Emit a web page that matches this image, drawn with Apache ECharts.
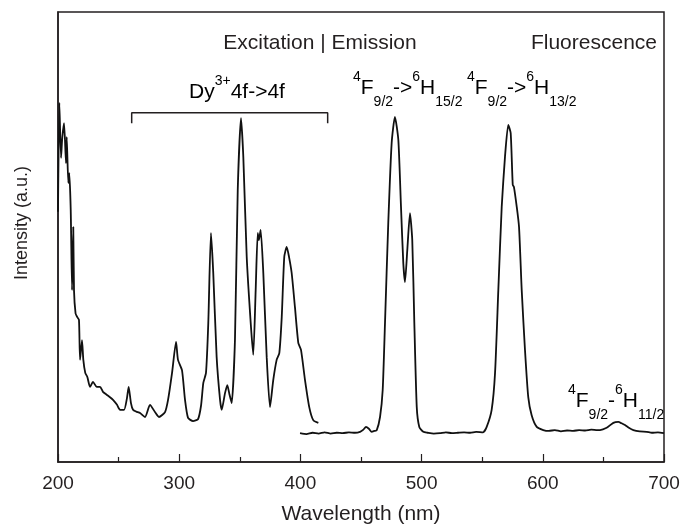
<!DOCTYPE html>
<html>
<head>
<meta charset="utf-8">
<script src="https://cdn.jsdelivr.net/npm/echarts@6/dist/echarts.min.js"></script>
<style>
  html, body { margin: 0; padding: 0; background: #fff; }
  #main { width: 681px; height: 525px; }
</style>
</head>
<body>
<div id="main"></div>
<script>
// excitation spectrum (Dy3+ 4f->4f), [wavelength nm, intensity a.u.]
const excitation = [
  [200, 55.6], [201.1, 79.8], [202.5, 67.6], [203.5, 72], [205, 75.3], [206.6, 66.4],
  [207.2, 72.2], [208.5, 62], [209.3, 64.2], [210.5, 56], [211.6, 38.2], [212.6, 52.2],
  [213.2, 38.2], [214.5, 33], [215.9, 32.2], [217.3, 31.6], [218.2, 22.7], [219.8, 27.1],
  [220.9, 22.7], [222.5, 19.8], [224.2, 18.9], [226.4, 16.7], [228.9, 17.8], [231.9, 16.7],
  [234.7, 16.7], [237.1, 15.6], [240.4, 14.9], [242.9, 14.4], [245.4, 13.8], [248.7, 12.7],
  [251.2, 11.6], [254.5, 11.6], [256.9, 14.2], [258.3, 16.7], [260.2, 13.1], [261.9, 11.6],
  [264.5, 11.2], [267.7, 10.9], [271.8, 10], [275.9, 12.7], [280, 11.1], [283.3, 10],
  [288.3, 11.1], [290.8, 13.8], [294.1, 19.8], [297.4, 26.7], [299, 22.7], [302.3, 20.4],
  [304.8, 13.8], [307.3, 9.8], [311.4, 9.1], [315.5, 9.5], [318, 12.5], [319.9, 17.6],
  [322.1, 19.8], [324, 30.9], [326.2, 50.9], [328.1, 42], [330.9, 23.3], [333.7, 13.8],
  [335.1, 11.6], [337.8, 15.3], [339.7, 17.1], [341.5, 15], [343.3, 13.1], [346, 27.1],
  [348.3, 60.4], [351, 76.4], [352.9, 67.8], [355.7, 45.6], [359, 30.9], [361.1, 23.8],
  [363.1, 38.2], [364.8, 50.9], [365.8, 49.3], [367.2, 51.6], [369.4, 42], [372.2, 23.3],
  [374.9, 12.2], [377.6, 18.2], [380.4, 22.7], [382.6, 24.2], [384.6, 32.2], [386.7, 45.6],
  [388.7, 47.8], [390.6, 45.6], [392.8, 42], [395.5, 34.4], [398.3, 26.4], [400.5, 24.9],
  [403.8, 18.2], [407.3, 12.2], [410.6, 9.3], [414.8, 8.7]
];

// emission (fluorescence) spectrum
const emission = [
  [399.7, 6.4], [405, 6.2], [410, 6.5], [415, 6.3], [420, 6.6], [425, 6.3], [430, 6.5],
  [435, 6.4], [440, 6.6], [445, 6.5], [449.2, 6.7], [452, 7.2], [454.1, 7.8], [456.5, 7.4],
  [458.8, 6.7], [461, 6.9], [463, 7.1], [465.7, 10], [467.9, 16], [469.8, 30.9], [472.5, 53.1],
  [475.3, 70.9], [478, 76.7], [480.8, 71.6], [483, 56.7], [484.9, 44.2], [486.3, 40],
  [488.2, 47.1], [490.4, 55.3], [492.3, 49.3], [494, 30.9], [496, 12.2], [498.1, 7.8],
  [501.4, 6.7], [505, 6.5], [510, 6.3], [515.2, 6.4], [520, 6.6], [525, 6.4], [530, 6.5],
  [535, 6.6], [540, 6.5], [545, 6.7], [550.7, 6.6], [553.7, 7.8], [557.8, 11.6], [560.6, 19.8],
  [563.3, 38.2], [566.1, 56.7], [568.8, 67.8], [571.5, 74.9], [573.5, 73.1], [575.2, 61.6],
  [576.2, 61.1], [578.5, 56.7], [580.4, 52.2], [582.6, 38.2], [585.3, 24.9], [588, 14.4],
  [590.8, 10.4], [595, 7.8], [600.4, 7.1], [605, 6.9], [610, 7.1], [615, 6.8], [620, 7.0],
  [625, 6.9], [630, 7.1], [635, 7.0], [640, 7.2], [645, 7.1], [647.2, 7.1], [652.7, 7.6],
  [658.2, 8.7], [662.3, 8.9], [665, 8.6], [667.8, 8.2], [671, 7.6], [674.7, 7.1], [680, 6.8],
  [685.7, 6.7], [690, 6.5], [695, 6.6], [700, 6.4]
];

// bracket over the 4f->4f excitation lines
const bracketX = [260.8, 260.8, 422.5, 422.5];
const bracketY = [75.3, 77.6, 77.6, 75.3];

const xTicks = [200, 300, 400, 500, 600, 700];

const ink = "#231f20";
const font = "'Liberation Sans', Arial, Helvetica, sans-serif";

const myChart = echarts.init(document.getElementById("main"));

// sub/superscripts: all tokens middle aligned, shifted with padding
const rich = {
  m: { fontSize: 21, fontFamily: font, color: ink },
  sup: { fontSize: 14, padding: [0, 0, 22, 0], fontFamily: font, color: ink },
  sub: { fontSize: 14, padding: [28, 0, 0, 0], fontFamily: font, color: ink },
};

function richText(x, y, text) {
  return {
    type: "text",
    x: x,
    y: y,
    silent: true,
    style: { text: text, rich: rich, align: "left", verticalAlign: "middle" },
  };
}

function plainText(x, y, text, align) {
  return {
    type: "text",
    x: x,
    y: y,
    silent: true,
    style: {
      text: text,
      fontSize: 21,
      fontFamily: font,
      fill: ink,
      align: align,
      verticalAlign: "middle",
    },
  };
}

let option = {
  animation: false,
  backgroundColor: "#fff",
  grid: {
    left: 58,
    right: 17,
    top: 12,
    bottom: 63,
    containLabel: false,
    outerBoundsMode: "none",
    show: true,
    borderColor: ink,
    borderWidth: 1.5,
  },
  xAxis: {
    type: "value",
    min: 200,
    max: 700,
    interval: 100,
    name: "Wavelength (nm)",
    nameLocation: "middle",
    nameGap: 42,
    nameTextStyle: { fontSize: 21, fontFamily: font, color: ink },
    axisLine: { lineStyle: { color: ink, width: 1.5 } },
    axisTick: { inside: true, length: 8, lineStyle: { color: ink, width: 1.2 } },
    minorTick: { show: true, splitNumber: 2, length: 5, lineStyle: { color: ink, width: 1.2 } },
    axisLabel: {
      fontSize: 19,
      fontFamily: font,
      color: ink,
      margin: 12,
      formatter: function (v) {
        return xTicks.indexOf(v) >= 0 ? String(v) : "";
      },
    },
    splitLine: { show: false },
  },
  yAxis: {
    type: "value",
    min: 0,
    max: 100,
    axisLine: { show: true, lineStyle: { color: ink, width: 1.5 } },
    axisTick: { show: false },
    axisLabel: { show: false },
    splitLine: { show: false },
  },
  series: [
    {
      name: "Excitation",
      type: "line",
      data: excitation,
      showSymbol: false,
      smooth: 0.2,
      lineStyle: { color: "#111", width: 1.8 },
    },
    {
      name: "Emission",
      type: "line",
      data: emission,
      showSymbol: false,
      smooth: 0.2,
      lineStyle: { color: "#111", width: 1.8 },
    },
    {
      name: "Bracket",
      type: "line",
      data: bracketX.map(function (x, i) { return [x, bracketY[i]]; }),
      showSymbol: false,
      lineStyle: { color: ink, width: 1.5 },
    },
  ],
  graphic: [
    {
      type: "text",
      x: 22,
      y: 223,
      rotation: Math.PI / 2,
      silent: true,
      style: {
        text: "Intensity (a.u.)",
        fontSize: 18,
        fontFamily: font,
        fill: ink,
        align: "center",
        verticalAlign: "middle",
      },
    },
    plainText(320, 43, "Excitation | Emission", "center"),
    plainText(657, 43, "Fluorescence", "right"),
    richText(189, 92, "{m|Dy}{sup|3+}{m|4f->4f}"),
    richText(353, 88, "{sup|4}{m|F}{sub|9/2}{m|->}{sup|6}{m|H}{sub|15/2}"),
    richText(467, 88, "{sup|4}{m|F}{sub|9/2}{m|->}{sup|6}{m|H}{sub|13/2}"),
    richText(568, 401, "{sup|4}{m|F}{sub|9/2}{m|-}{sup|6}{m|H}{sub|11/2}"),
  ],
};

option && myChart.setOption(option);

window.addEventListener("resize", function () {
  myChart.resize();
});
</script>
</body>
</html>
